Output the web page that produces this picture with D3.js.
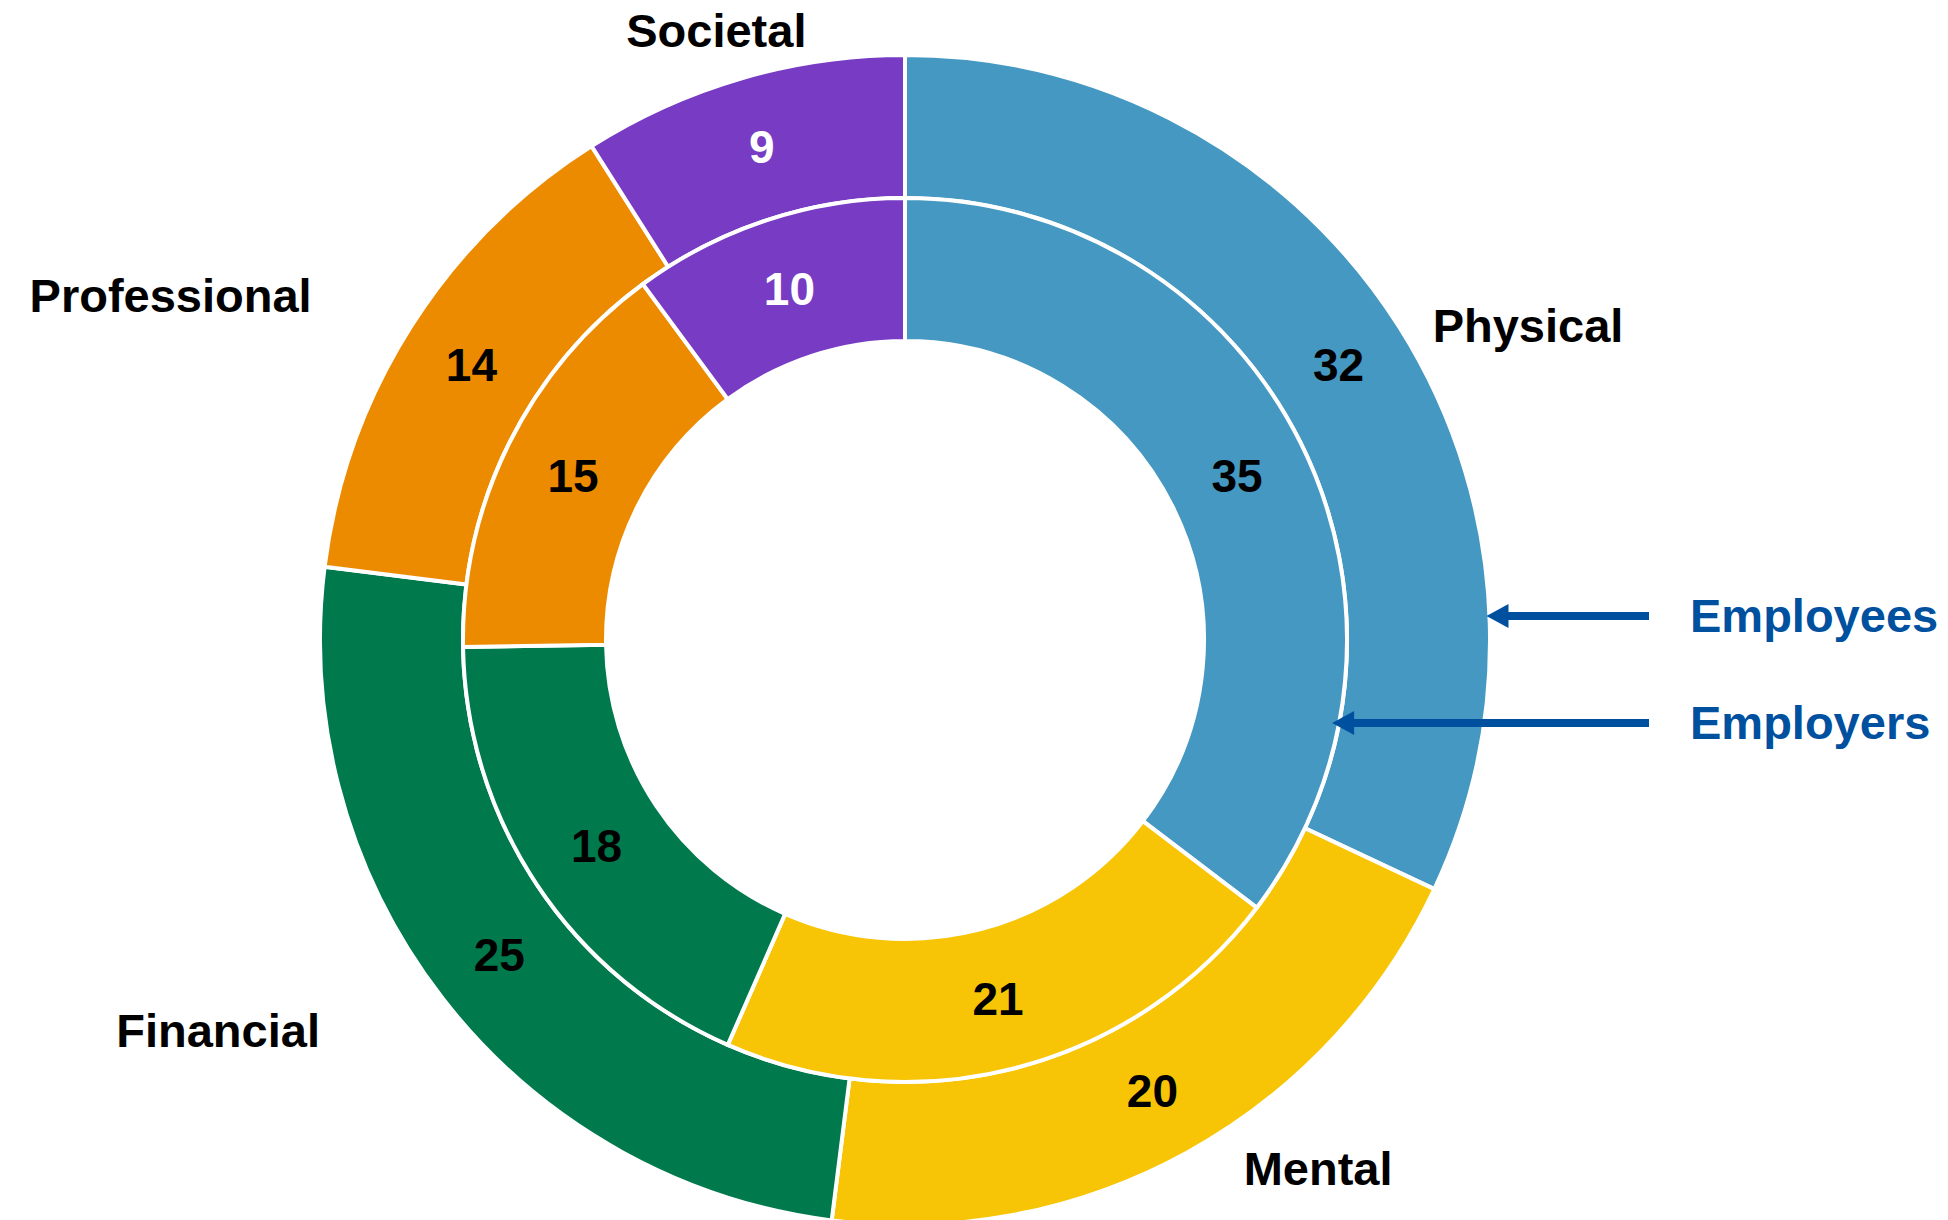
<!DOCTYPE html>
<html>
<head>
<meta charset="utf-8">
<script src="https://cdn.jsdelivr.net/npm/d3@7"></script>
<style>
  html, body { margin: 0; padding: 0; background: #ffffff; }
  svg { display: block; }
  text { font-family: "Liberation Sans", Arial, sans-serif; font-weight: bold; }
</style>
</head>
<body>
<svg id="chart" width="1948" height="1220"></svg>
<script>
// ---- Data ----
const categories = ["Physical", "Mental", "Financial", "Professional", "Societal"];
const employeesValues = [32, 20, 25, 14, 9];   // outer ring
const employersValues = [35, 21, 18, 15, 10];  // inner ring
const seriesNames = ["Employees", "Employers"];
const colors = ["#4498C1", "#F7C505", "#007A4D", "#ED8B00", "#773BC4"];
const valueTextColors = ["#000000", "#000000", "#000000", "#000000", "#ffffff"];
// label placement: angle (deg, clockwise from top) and distance from centre
const labelAngles = [63.2, 142.0, 240.4, 295.1, 342.8];
const labelRadii = [698, 671, 790, 811, 638];

// ---- Layout ----
const W = 1948, H = 1220;
const cx = 905, cy = 640;
const rOuter = 585, rMid = 442, rInner = 299;

const svg = d3.select("#chart");
const g = svg.append("g").attr("transform", `translate(${cx},${cy})`);

const pie = d3.pie().sort(null).value(d => d);
const color = d3.scaleOrdinal().domain(categories).range(colors);

const outerArc = d3.arc().innerRadius(rMid).outerRadius(rOuter);
const innerArc = d3.arc().innerRadius(rInner).outerRadius(rMid);

function ring(values, arc, cls) {
  const arcs = pie(values);
  const grp = g.append("g").attr("class", cls);
  grp.selectAll("path").data(arcs).enter().append("path")
    .attr("d", arc)
    .attr("fill", (d, i) => color(categories[i]))
    .attr("stroke", "#ffffff")
    .attr("stroke-width", 4)
    .attr("stroke-linejoin", "miter");
  grp.selectAll("text").data(arcs).enter().append("text")
    .attr("transform", d => `translate(${arc.centroid(d)})`)
    .attr("text-anchor", "middle")
    .attr("dy", "0.36em")
    .attr("font-size", 46)
    .attr("fill", (d, i) => valueTextColors[i])
    .text(d => d.data);
}
ring(employeesValues, outerArc, "outer");
ring(employersValues, innerArc, "inner");

// category labels
g.append("g").selectAll("text").data(categories).enter().append("text")
  .attr("x", (d, i) => labelRadii[i] * Math.sin(labelAngles[i] * Math.PI / 180))
  .attr("y", (d, i) => -labelRadii[i] * Math.cos(labelAngles[i] * Math.PI / 180))
  .attr("text-anchor", "middle")
  .attr("dy", "0.35em")
  .attr("font-size", 47)
  .attr("fill", "#000000")
  .text(d => d);

// legend arrows
const legendColor = "#0050A0";
const legendY = [616 - cy, 723 - cy];
const legendTargetR = [rOuter, rMid];
const lineEndX = 1649 - cx;
const textX = 1690 - cx;
const legend = g.append("g");
seriesNames.forEach((name, i) => {
  const y = legendY[i];
  const R = legendTargetR[i];
  const tipX = Math.sqrt(R * R - y * y) - (i === 0 ? 3 : 7);
  const headLen = 22, headHalf = 12;
  legend.append("line")
    .attr("x1", lineEndX).attr("x2", tipX + headLen - 1)
    .attr("y1", y).attr("y2", y)
    .attr("stroke", legendColor).attr("stroke-width", 8);
  legend.append("path")
    .attr("d", `M${tipX},${y} L${tipX + headLen},${y - headHalf} L${tipX + headLen},${y + headHalf} Z`)
    .attr("fill", legendColor);
  legend.append("text")
    .attr("x", textX).attr("y", y)
    .attr("dy", "0.35em")
    .attr("font-size", 47)
    .attr("fill", legendColor)
    .text(name);
});
</script>
</body>
</html>
